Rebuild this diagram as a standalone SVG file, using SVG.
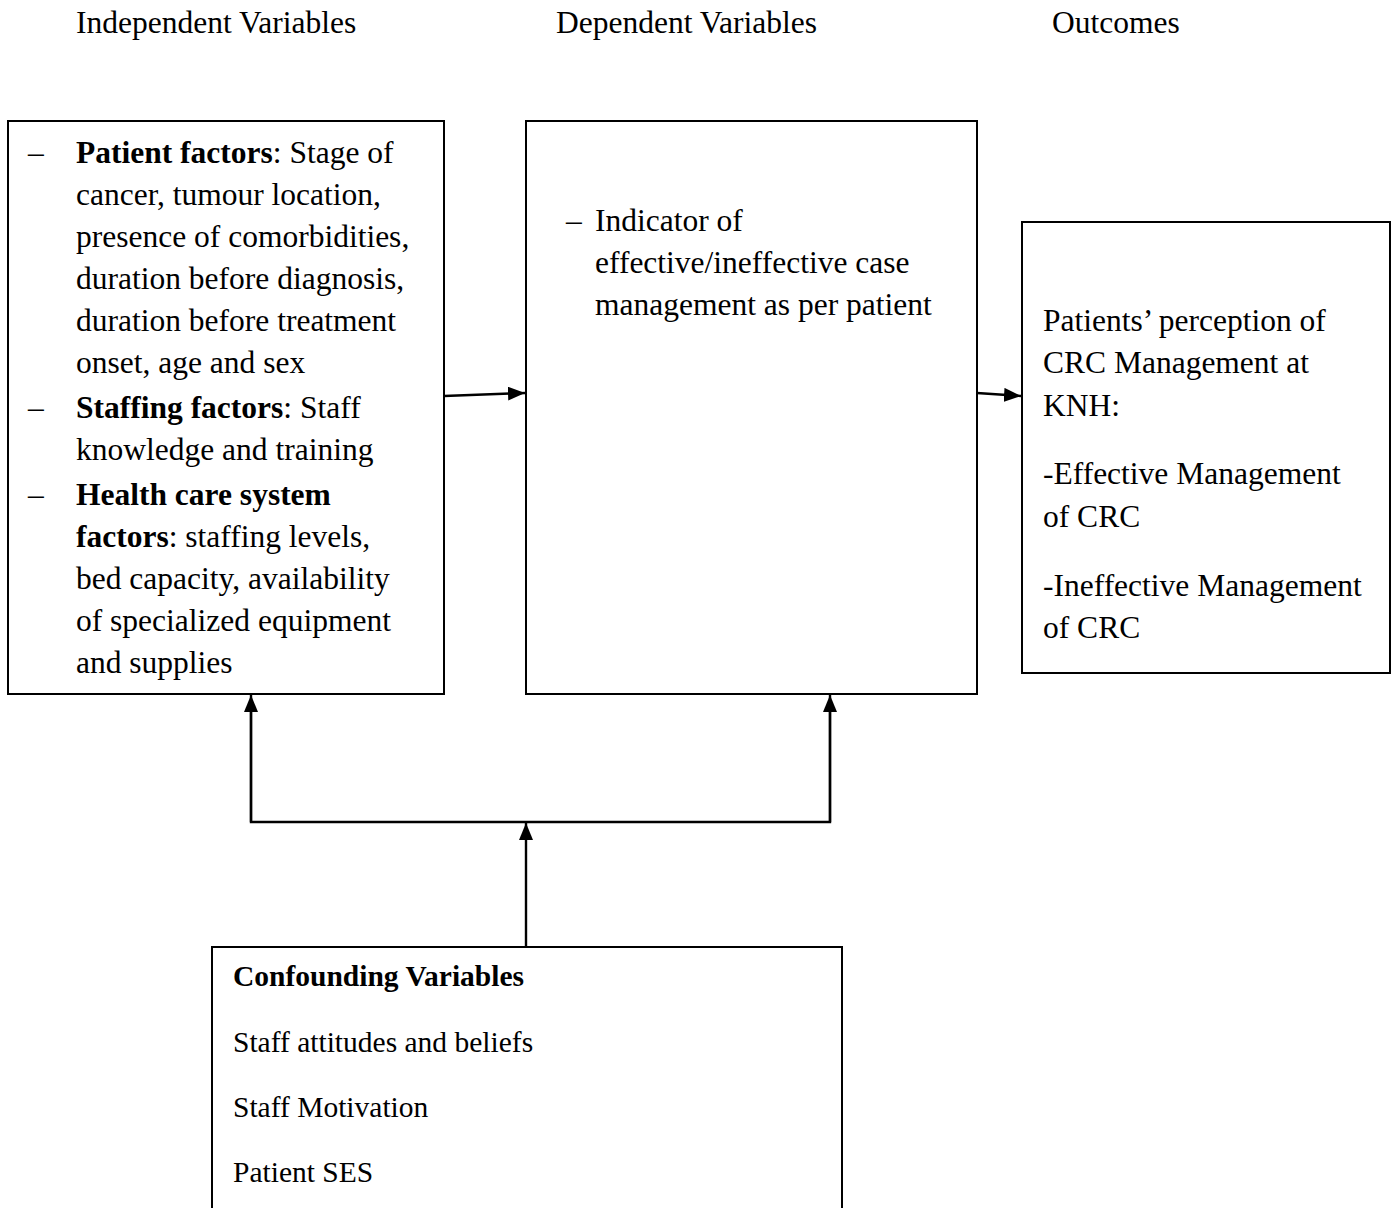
<svg xmlns="http://www.w3.org/2000/svg" width="1398" height="1208" viewBox="0 0 1398 1208">
<style>
text{font-family:"Liberation Serif","Times New Roman",serif;fill:#000}
.h{font-size:31.5px}
.t{font-size:31.5px}
.c{font-size:29.5px}
.b{font-weight:bold}
.box{fill:#fff;stroke:#000;stroke-width:2}
.ln{fill:none;stroke:#000;stroke-width:2.4}
</style>
<defs>
<marker id="ah" viewBox="0 0 17 14" refX="17" refY="7" markerWidth="17" markerHeight="14" markerUnits="userSpaceOnUse" orient="auto">
<path d="M0,0 L17,7 L0,14 Z" fill="#000"/>
</marker>
</defs>
<rect width="1398" height="1208" fill="#fff"/>
<g id="headers">
<text class="h" x="76" y="33">Independent Variables</text>
<text class="h" x="556" y="33">Dependent Variables</text>
<text class="h" x="1052" y="33">Outcomes</text>
</g>
<g id="independent">
<rect class="box" x="8" y="121" width="436" height="573"/>
<text class="t" x="28" y="163">–</text>
<text class="t" x="76" y="163"><tspan class="b">Patient factors</tspan>: Stage of</text>
<text class="t" x="76" y="205">cancer, tumour location,</text>
<text class="t" x="76" y="247">presence of comorbidities,</text>
<text class="t" x="76" y="289">duration before diagnosis,</text>
<text class="t" x="76" y="331">duration before treatment</text>
<text class="t" x="76" y="373">onset, age and sex</text>
<text class="t" x="28" y="418">–</text>
<text class="t" x="76" y="418"><tspan class="b">Staffing factors</tspan>: Staff</text>
<text class="t" x="76" y="460">knowledge and training</text>
<text class="t" x="28" y="505">–</text>
<text class="t b" x="76" y="505">Health care system</text>
<text class="t" x="76" y="547"><tspan class="b">factors</tspan>: staffing levels,</text>
<text class="t" x="76" y="589">bed capacity, availability</text>
<text class="t" x="76" y="631">of specialized equipment</text>
<text class="t" x="76" y="673">and supplies</text>
</g>
<g id="dependent">
<rect class="box" x="526" y="121" width="451" height="573"/>
<text class="t" x="566" y="231">–</text>
<text class="t" x="595" y="231">Indicator of</text>
<text class="t" x="595" y="273">effective/ineffective case</text>
<text class="t" x="595" y="315">management as per patient</text>
</g>
<g id="outcomes">
<rect class="box" x="1022" y="222" width="368" height="451"/>
<text class="t" x="1043" y="331">Patients’ perception of</text>
<text class="t" x="1043" y="373">CRC Management at</text>
<text class="t" x="1043" y="416">KNH:</text>
<text class="t" x="1043" y="484">-Effective Management</text>
<text class="t" x="1043" y="527">of CRC</text>
<text class="t" x="1043" y="596">-Ineffective Management</text>
<text class="t" x="1043" y="638">of CRC</text>
</g>
<g id="confounding">
<rect class="box" x="212" y="947" width="630" height="280"/>
<text class="c b" x="233" y="986">Confounding Variables</text>
<text class="c" x="233" y="1052">Staff attitudes and beliefs</text>
<text class="c" x="233" y="1117">Staff Motivation</text>
<text class="c" x="233" y="1182">Patient SES</text>
</g>
<g id="connectors">
<line class="ln" x1="444" y1="396" x2="525" y2="393" marker-end="url(#ah)"/>
<line class="ln" x1="977" y1="393" x2="1021" y2="396" marker-end="url(#ah)"/>
<line class="ln" x1="526" y1="947" x2="526" y2="823" marker-end="url(#ah)"/>
<polyline class="ln" points="251,700 251,822 830,822 830,700"/>
<line class="ln" x1="251" y1="822" x2="251" y2="695" marker-end="url(#ah)"/>
<line class="ln" x1="830" y1="822" x2="830" y2="695" marker-end="url(#ah)"/>
</g>
</svg>
